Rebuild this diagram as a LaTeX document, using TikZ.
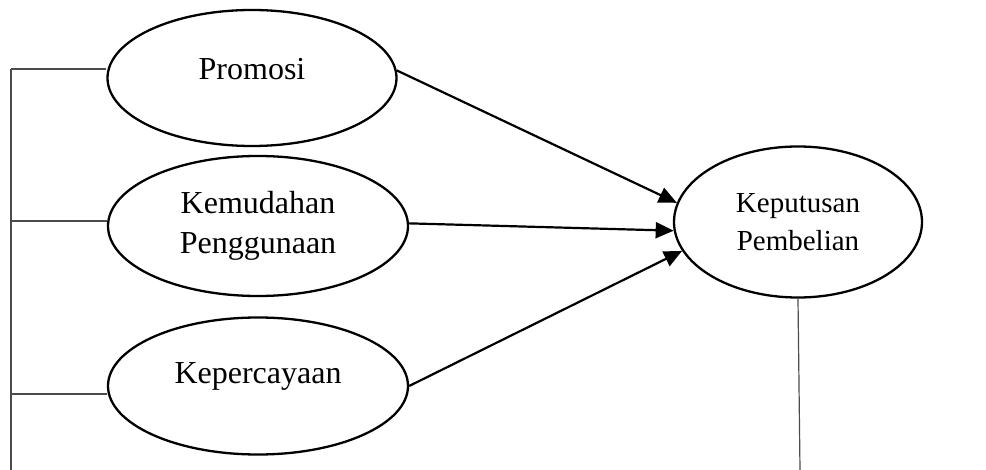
\documentclass[tikz,border=0pt]{standalone}
\usepackage{fontspec}
\setmainfont{Liberation Serif}
\usepackage{tikz}
\usetikzlibrary{shapes,arrows.meta,positioning,calc}

\begin{document}
\begin{tikzpicture}[x=1pt,y=-1pt,
    font=\fontsize{32}{40}\selectfont,
    varnode/.style={draw, ellipse, line width=2.3pt, inner sep=0pt, align=center},
    arrowline/.style={-{Triangle[length=18pt,width=16pt]}, line width=2.2pt},
    rail/.style={line width=1.2pt, black!70}]
    \useasboundingbox (0,0) rectangle (986,470);

    % Independent variables
    \node[varnode, minimum width=289pt, minimum height=136pt,
          label={[yshift=9pt]center:Promosi}] (promosi) at (252,78) {};
    \node[varnode, minimum width=300pt, minimum height=140pt] (kemudahan) at (258,226) {Kemudahan\\Penggunaan};
    \node[varnode, minimum width=300pt, minimum height=137pt,
          label={[yshift=10pt]center:Kepercayaan}] (kepercayaan) at (258,386) {};

    % Dependent variable
    \node[varnode, minimum width=248pt, minimum height=151pt,
          font=\fontsize{29}{38}\selectfont] (keputusan) at (798,222) {Keputusan\\Pembelian};

    % Paths
    \draw[arrowline] (promosi.3) -- (keputusan.171);
    \draw[arrowline] (kemudahan.1) -- (keputusan.184);
    \draw[arrowline] (kepercayaan.east) -- (keputusan.194);

    % Left rail
    \coordinate (railA) at (11,69);
    \coordinate (railB) at (11,221);
    \coordinate (railC) at (11,394);
    \coordinate (railEnd) at (11,470);
    \draw[rail] (railA) -- (railEnd);
    \draw[rail] (railA) -- (promosi.west |- railA);
    \draw[rail] (railB) -- (kemudahan.west |- railB);
    \draw[rail] (railC) -- (kepercayaan.west |- railC);

    % Right rail
    \coordinate (rightEnd) at (800,470);
    \draw[rail] (keputusan.south) -- (rightEnd);
\end{tikzpicture}
\end{document}
